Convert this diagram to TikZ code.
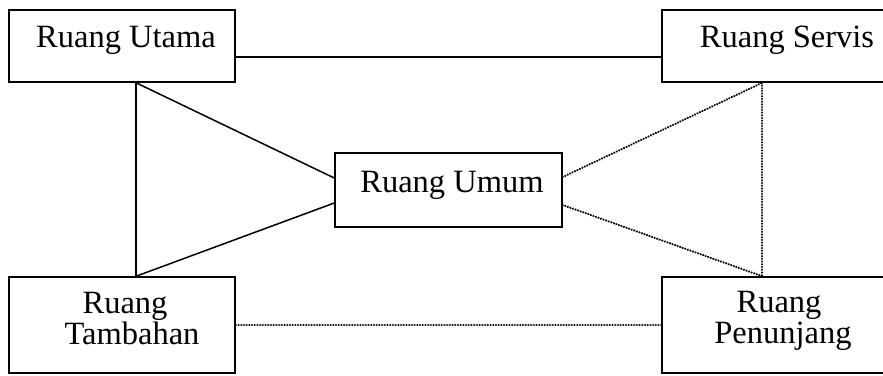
\documentclass[tikz,border=0pt]{standalone}
\usepackage{fontspec}
\setmainfont{Liberation Serif}
\begin{document}
\begin{tikzpicture}[x=1pt,y=-1pt,
  box/.style={draw, line width=1.5pt, inner sep=0pt, rectangle},
  lbl/.style={font=\fontsize{32.5}{30}\selectfont, inner sep=0pt, anchor=base, align=center},
  solidline/.style={line width=1.5pt},
  dotline/.style={line width=2.4pt, line cap=round, dash pattern=on 0.01pt off 2.7pt}]
\clip (0,0) rectangle (883,375);
\fill[white] (0,0) rectangle (883,375);
% boxes
\node[box, minimum width=226pt, minimum height=72pt] (utama) at (122,46) {};
\node[box, minimum width=224pt, minimum height=72pt] (servis) at (774,46) {};
\node[box, minimum width=227pt, minimum height=74pt] (umum) at (448.5,190) {};
\node[box, minimum width=226pt, minimum height=96pt] (tambahan) at (122,325) {};
\node[box, minimum width=224pt, minimum height=96pt] (penunjang) at (774,325) {};
% labels
\node[lbl] (tutama) at (126,47) {Ruang Utama};
\node[lbl] (tservis) at (787,47) {Ruang Servis};
\node[lbl] (tumum) at (452,192) {Ruang Umum};
\node[lbl] (ttambahan1) at (125,313) {Ruang};
\node[lbl] (ttambahan2) at (132,344) {Tambahan};
\node[lbl] (tpenunjang1) at (779,312) {Ruang};
\node[lbl] (tpenunjang2) at (783,343) {Penunjang};
% solid connectors
\coordinate (ua) at ([xshift=14pt]utama.south);
\coordinate (ta) at ([xshift=14pt]tambahan.north);
\draw[solidline] ([yshift=-11pt]utama.east) -- ([yshift=-11pt]servis.west);
\draw[solidline] (ua) -- (ta);
\draw[solidline] (ua) -- ([yshift=12pt]umum.west);
\draw[solidline] (ta) -- ([yshift=-13pt]umum.west);
% dotted connectors
\coordinate (sb) at ([xshift=101pt]servis.south west);
\coordinate (pt) at ([xshift=101pt]penunjang.north west);
\draw[dotline] ([yshift=13pt]umum.east) -- (sb);
\draw[dotline] (sb) -- (pt);
\draw[dotline] ([yshift=-15pt]umum.east) -- (pt);
\draw[dotline] (tambahan.east) -- (penunjang.west);
\end{tikzpicture}
\end{document}
